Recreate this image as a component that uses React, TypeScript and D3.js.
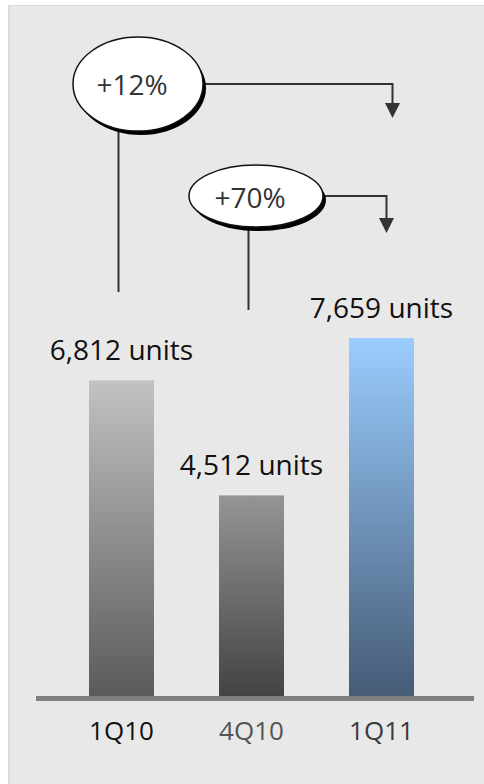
import React from "react";
import * as d3 from "d3";

const categories = ["1Q10", "4Q10", "1Q11"];
const values = [6812, 4512, 7659];
const valueLabels = ["6,812 units", "4,512 units", "7,659 units"];
const changeLabels = ["+12%", "+70%"];

const W = 484;
const H = 784;
const FONT = "'Open Sans', Lato, sans-serif";

const gradients = [
  { id: "g0", top: "#c2c2c2", bottom: "#5a5a5a" },
  { id: "g1", top: "#959595", bottom: "#434343" },
  { id: "g2", top: "#9acdff", bottom: "#465b76" },
];
const catColors = ["#111111", "#555555", "#3a3a3a"];

export default function App() {
  const x = d3.scaleBand<string>().domain(categories).range([24, 479]).paddingInner(0.5).paddingOuter(0.5);
  const y = d3.scaleLinear().domain([500, 8000]).range([696, 321]);
  const cx = (i: number) => (x(categories[i]) as number) + x.bandwidth() / 2;

  const bubbles = [
    { label: changeLabels[0], ecx: 138, ecy: 84, rx: 65, ry: 47, from: 0, lineTop: 131, lineBottom: 292, arrowY: 84, arrowX: cx(2) + 11, arrowEnd: 118, textY: 95 },
    { label: changeLabels[1], ecx: 256, ecy: 196, rx: 67, ry: 31, from: 1, lineTop: 227, lineBottom: 310, arrowY: 196, arrowX: cx(2) + 5, arrowEnd: 233, textY: 208 },
  ];

  return (
    <div style={{ position: "absolute", left: 0, top: 0 }}>
      <svg width={W} height={H} style={{ display: "block" }}>
        <defs>
          {gradients.map((g) => (
            <linearGradient key={g.id} id={g.id} x1="0" y1="0" x2="0" y2="1">
              <stop offset="0%" stopColor={g.top} />
              <stop offset="100%" stopColor={g.bottom} />
            </linearGradient>
          ))}
        </defs>
        <rect x={0} y={0} width={W} height={H} fill="#ffffff" />
        <rect x={8} y={5} width={W - 8} height={H - 5} fill="#dcdcdc" />
        <rect x={10} y={6} width={W - 10} height={H - 6} fill="#e8e8e8" />

        {values.map((v, i) => (
          <rect
            key={categories[i]}
            x={x(categories[i])}
            y={y(v)}
            width={x.bandwidth()}
            height={y(500) - y(v)}
            fill={`url(#${gradients[i].id})`}
          />
        ))}

        <rect x={36} y={696} width={438} height={5} fill="#808080" />

        {values.map((v, i) => (
          <text
            key={"vl" + i}
            x={cx(i)}
            y={y(v) - 20}
            textAnchor="middle"
            fontFamily={FONT}
            fontSize={28}
            fill="#111"
          >
            {valueLabels[i]}
          </text>
        ))}

        {categories.map((c, i) => (
          <text
            key={"cat" + c}
            x={cx(i)}
            y={740}
            textAnchor="middle"
            fontFamily={FONT}
            fontSize={26}
            fill={catColors[i]}
          >
            {c}
          </text>
        ))}

        {bubbles.map((b, k) => (
          <g key={"b" + k}>
            <line x1={cx(b.from) - 3} x2={cx(b.from) - 3} y1={b.lineTop} y2={b.lineBottom} stroke="#333" strokeWidth={2} />
            <polyline
              points={`${b.ecx + b.rx},${b.arrowY} ${b.arrowX},${b.arrowY} ${b.arrowX},${b.arrowEnd - 14}`}
              fill="none"
              stroke="#333"
              strokeWidth={2}
            />
            <polygon
              points={`${b.arrowX - 7.5},${b.arrowEnd - 15} ${b.arrowX + 7.5},${b.arrowEnd - 15} ${b.arrowX},${b.arrowEnd}`}
              fill="#333"
            />
            <ellipse cx={b.ecx + 3} cy={b.ecy + 4} rx={b.rx} ry={b.ry} fill="#000" />
            <ellipse cx={b.ecx} cy={b.ecy} rx={b.rx} ry={b.ry} fill="#fff" stroke="#111" strokeWidth={1.5} />
            <text x={b.ecx - 6} y={b.textY} textAnchor="middle" fontFamily={FONT} fontSize={28} fill="#333">
              {b.label}
            </text>
          </g>
        ))}
      </svg>
    </div>
  );
}
